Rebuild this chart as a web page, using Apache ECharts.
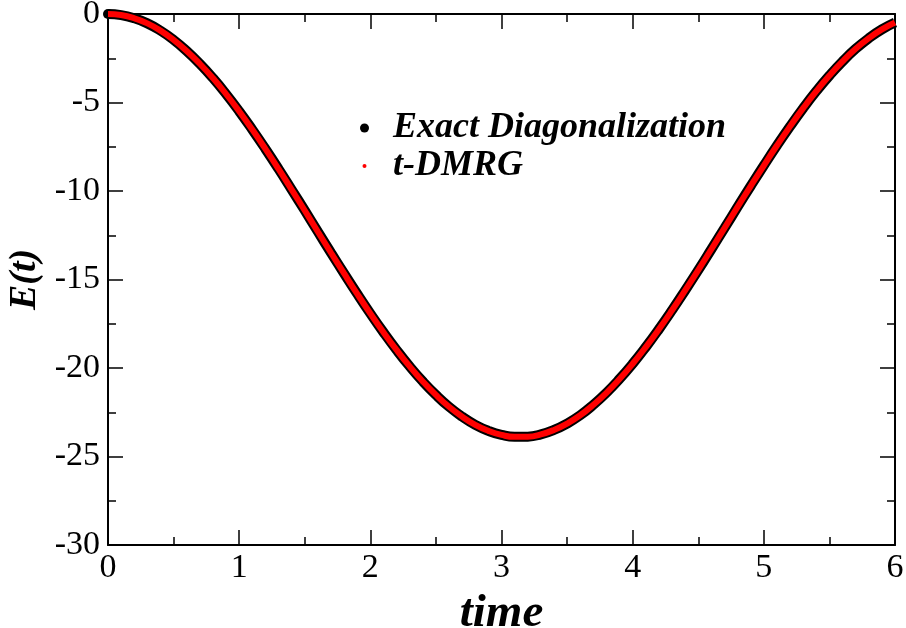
<!DOCTYPE html>
<html>
<head>
<meta charset="utf-8">
<script src="https://cdn.jsdelivr.net/npm/echarts@6/dist/echarts.min.js"></script>
<style>html,body{margin:0;padding:0;background:#fff;}#c{width:906px;height:628px;}</style>
</head>
<body>
<div id="c"></div>
<script>
var times = [0.0,0.1,0.2,0.3,0.4,0.5,0.6,0.7,0.8,0.9,1.0,1.1,1.2,1.3,1.4,1.5,1.6,1.7,1.8,1.9,2.0,2.1,2.2,2.3,2.4,2.5,2.6,2.7,2.8,2.9,3.0,3.1,3.2,3.3,3.4,3.5,3.6,3.7,3.8,3.9,4.0,4.1,4.2,4.3,4.4,4.5,4.6,4.7,4.8,4.9,5.0,5.1,5.2,5.3,5.4,5.5,5.6,5.7,5.8,5.9,6.0];
var energyED = [0.00,-0.06,-0.24,-0.53,-0.94,-1.46,-2.09,-2.81,-3.62,-4.52,-5.49,-6.53,-7.62,-8.75,-9.92,-11.10,-12.30,-13.49,-14.66,-15.81,-16.92,-17.98,-18.98,-19.91,-20.76,-21.52,-22.19,-22.75,-23.21,-23.55,-23.78,-23.89,-23.88,-23.75,-23.50,-23.14,-22.67,-22.08,-21.40,-20.62,-19.76,-18.82,-17.81,-16.74,-15.62,-14.47,-13.29,-12.10,-10.90,-9.72,-8.56,-7.43,-6.35,-5.32,-4.36,-3.48,-2.68,-1.97,-1.37,-0.87,-0.48];
var energyDMRG = [0.00,-0.06,-0.24,-0.53,-0.94,-1.46,-2.09,-2.81,-3.62,-4.52,-5.49,-6.53,-7.62,-8.75,-9.92,-11.10,-12.30,-13.49,-14.66,-15.81,-16.92,-17.98,-18.98,-19.91,-20.76,-21.52,-22.19,-22.75,-23.21,-23.55,-23.78,-23.89,-23.88,-23.75,-23.50,-23.14,-22.67,-22.08,-21.40,-20.62,-19.76,-18.82,-17.81,-16.74,-15.62,-14.47,-13.29,-12.10,-10.90,-9.72,-8.56,-7.43,-6.35,-5.32,-4.36,-3.48,-2.68,-1.97,-1.37,-0.87,-0.48];
var seriesNames = ['Exact Diagonalization', 't-DMRG'];
var xTicks = {min: 0, max: 6, interval: 1};
var yTicks = {min: -30, max: 0, interval: 5};

function pairs(xs, ys){ return xs.map(function(x,i){ return [x, ys[i]]; }); }
function withStartDot(arr){
  return arr.map(function(p, i){
    return i === 0 ? {value: p, symbol: 'circle', symbolSize: 10} : {value: p, symbol: 'none'};
  });
}

var serif = '"Liberation Serif", "Times New Roman", serif';
var axisCommon = {
  axisLine: {onZero: false, lineStyle: {color: '#000', width: 2}},
  axisTick: {inside: true, length: 15, lineStyle: {color: '#000', width: 1.5}},
  minorTick: {show: true, splitNumber: 2, length: 8, lineStyle: {color: '#000', width: 1.5}},
  splitLine: {show: false}
};
function ax(extra){ return Object.assign({}, JSON.parse(JSON.stringify(axisCommon)), extra); }

var chart = echarts.init(document.getElementById('c'));
chart.setOption({
  animation: false,
  backgroundColor: '#fff',
  grid: {left: 108, right: 11, top: 14, bottom: 83, containLabel: false, outerBoundsMode: 'none'},
  legend: [
    {data: [{name: seriesNames[0], icon: 'circle'}], left: 360, top: 110, padding: 0, itemWidth: 9, itemHeight: 9, itemGap: 0,
     textStyle: {fontFamily: serif, fontSize: 36, fontWeight: 'bold', fontStyle: 'italic', color: '#000', padding: [0,0,0,19]}},
    {data: [{name: seriesNames[1], icon: 'circle'}], left: 362.5, top: 148, padding: 0, itemWidth: 4, itemHeight: 4, itemGap: 0,
     textStyle: {fontFamily: serif, fontSize: 36, fontWeight: 'bold', fontStyle: 'italic', color: '#000', padding: [0,0,0,21.5]}}
  ],
  xAxis: [
    ax({type: 'value', min: xTicks.min, max: xTicks.max, interval: xTicks.interval, position: 'bottom',
      name: 'time', nameLocation: 'middle', nameGap: 38,
      nameTextStyle: {fontFamily: serif, fontSize: 47, fontWeight: 'bold', fontStyle: 'italic', color: '#000'},
      axisLabel: {fontFamily: serif, fontSize: 34, color: '#000', margin: 6}}),
    ax({type: 'value', min: xTicks.min, max: xTicks.max, interval: xTicks.interval, position: 'top',
      axisLabel: {show: false}})
  ],
  yAxis: [
    ax({type: 'value', min: yTicks.min, max: yTicks.max, interval: yTicks.interval, position: 'left',
      name: 'E(t)', nameLocation: 'middle', nameGap: 62, nameRotate: 90,
      nameTextStyle: {fontFamily: serif, fontSize: 38, fontWeight: 'bold', fontStyle: 'italic', color: '#000'},
      axisLabel: {fontFamily: serif, fontSize: 34, color: '#000', margin: 8}}),
    ax({type: 'value', min: yTicks.min, max: yTicks.max, interval: yTicks.interval, position: 'right',
      axisLabel: {show: false}})
  ],
  series: [
    {name: seriesNames[0], type: 'line', data: withStartDot(pairs(times, energyED)), smooth: true, showSymbol: true,
     clip: false, color: '#000', itemStyle: {color: '#000'}, lineStyle: {color: '#000', width: 10}, z: 2},
    {name: seriesNames[1], type: 'line', data: pairs(times, energyDMRG), smooth: true, showSymbol: false,
     clip: false, color: '#ff0000', lineStyle: {color: '#ff0000', width: 6}, z: 3}
  ]
});
</script>
</body>
</html>
